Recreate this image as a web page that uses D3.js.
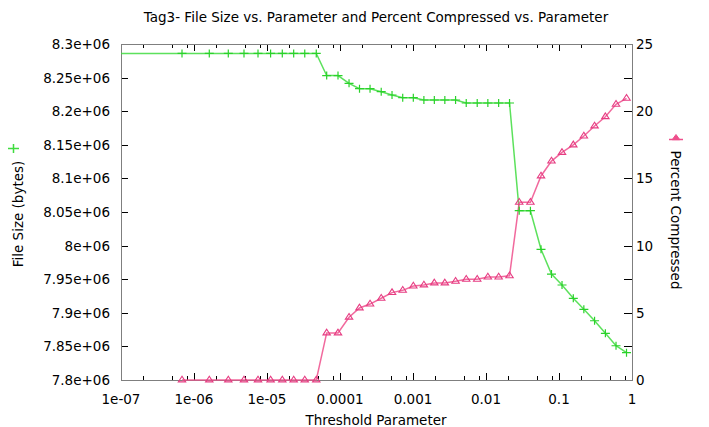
<!DOCTYPE html>
<html>
<head>
<meta charset="utf-8">
<script src="https://cdn.jsdelivr.net/npm/d3@7"></script>
<style>
  body { margin: 0; background: #fff; }
  text { font-family: "DejaVu Sans", sans-serif; fill: #000; font-size: 13.5px; }
</style>
</head>
<body>
<div id="chart"></div>
<script>
// threshold parameter (x), first value lies left of the plotted range
const thresholds = [1e-8, 6.85e-7, 1.62e-6, 2.95e-6, 4.84e-6, 7.53e-6, 1.12e-5, 1.62e-5, 2.32e-5, 3.29e-5, 4.73e-5,
    6.57e-5, 9.39e-5, 1.33e-4, 1.85e-4, 2.58e-4, 3.67e-4, 5.16e-4, 7.23e-4, 1.01e-3, 1.41e-3,
    1.96e-3, 2.73e-3, 3.83e-3, 5.36e-3, 7.58e-3, 1.06e-2, 1.49e-2, 2.10e-2, 2.85e-2, 4.06e-2,
    5.67e-2, 7.89e-2, 0.110, 0.157, 0.219, 0.307, 0.432, 0.604, 0.841];

// file size in bytes
const fileSizes = [8.286e6, 8.286e6, 8.286e6, 8.286e6, 8.286e6, 8.286e6, 8.286e6, 8.286e6, 8.286e6, 8.286e6, 8.286e6,
    8.253e6, 8.253e6, 8.2415e6, 8.2335e6, 8.2335e6, 8.229e6, 8.2241e6, 8.2201e6, 8.2201e6, 8.2167e6,
    8.2167e6, 8.2167e6, 8.2167e6, 8.2122e6, 8.2122e6, 8.2122e6, 8.2122e6, 8.2122e6, 8.0519e6, 8.0519e6,
    7.9945e6, 7.9577e6, 7.9414e6, 7.9216e6, 7.9052e6, 7.8882e6, 7.8695e6, 7.851e6, 7.8406e6];

// percent compressed (no value read for the off-axis point)
const percents = [null, 0, 0, 0, 0, 0, 0, 0, 0, 0, 0,
    3.5, 3.5, 4.67, 5.36, 5.65, 6.08, 6.5, 6.67, 6.99, 7.07,
    7.22, 7.22, 7.34, 7.49, 7.49, 7.66, 7.66, 7.75, 13.22, 13.22,
    15.18, 16.29, 16.93, 17.49, 18.15, 18.9, 19.59, 20.51, 20.96];

const xTicks = [1e-7, 1e-6, 1e-5, 1e-4, 1e-3, 1e-2, 1e-1, 1];
const xTickLabels = ["1e-07", "1e-06", "1e-05", "0.0001", "0.001", "0.01", "0.1", "1"];
const yTicks = [7.8e6, 7.85e6, 7.9e6, 7.95e6, 8e6, 8.05e6, 8.1e6, 8.15e6, 8.2e6, 8.25e6, 8.3e6];
const yTickLabels = ["7.8e+06", "7.85e+06", "7.9e+06", "7.95e+06", "8e+06", "8.05e+06",
    "8.1e+06", "8.15e+06", "8.2e+06", "8.25e+06", "8.3e+06"];
const y2Ticks = [0, 5, 10, 15, 20, 25];

const width = 709;
const height = 427;
const margin = { top: 44, right: 77, bottom: 47, left: 121 };
const green = "#3fdc3f";
const pink = "#ee4f8c";

const svg = d3.select("#chart")
    .append("svg")
    .attr("width", width)
    .attr("height", height);

const x = d3.scaleLog()
    .domain([1e-7, 1])
    .range([margin.left, width - margin.right]);

const y = d3.scaleLinear()
    .domain([7.8e6, 8.3e6])
    .range([height - margin.bottom, margin.top]);

const y2 = d3.scaleLinear()
    .domain([0, 25])
    .range([height - margin.bottom, margin.top]);

const plotLeft = margin.left, plotRight = width - margin.right;
const plotTop = margin.top, plotBottom = height - margin.bottom;

// minor x ticks at 2, 5, 8 of each decade
const xMinor = [];
xTicks.slice(0, -1).forEach(t => [2, 5, 8].forEach(m => xMinor.push(t * m)));

const ticks = svg.append("g").attr("stroke", "#000").attr("stroke-width", 1);

ticks.selectAll(".xmaj").data(xTicks).enter().append("path")
    .attr("d", d => `M${Math.round(x(d)) + 0.5},${plotBottom}v-7M${Math.round(x(d)) + 0.5},${plotTop}v7`);
ticks.selectAll(".xmin").data(xMinor).enter().append("path")
    .attr("d", d => `M${Math.round(x(d)) + 0.5},${plotBottom}v-4M${Math.round(x(d)) + 0.5},${plotTop}v4`);
ticks.selectAll(".ymaj").data(yTicks).enter().append("path")
    .attr("d", d => `M${plotLeft},${Math.round(y(d)) + 0.5}h7M${plotRight},${Math.round(y(d)) + 0.5}h-8`);

// frame
svg.append("rect")
    .attr("x", plotLeft + 0.5)
    .attr("y", plotTop + 0.5)
    .attr("width", plotRight - plotLeft)
    .attr("height", plotBottom - plotTop)
    .attr("fill", "none")
    .attr("stroke", "#7f7f7f");

// tick labels
svg.append("g").selectAll("text").data(xTicks).enter().append("text")
    .attr("x", d => x(d))
    .attr("y", plotBottom + 24)
    .attr("text-anchor", "middle")
    .text((d, i) => xTickLabels[i]);

svg.append("g").selectAll("text").data(yTicks).enter().append("text")
    .attr("x", plotLeft - 11)
    .attr("y", d => y(d) + 5)
    .attr("text-anchor", "end")
    .text((d, i) => yTickLabels[i]);

svg.append("g").selectAll("text").data(y2Ticks).enter().append("text")
    .attr("x", plotRight + 4)
    .attr("y", d => y2(d) + 5)
    .text(d => d);

// titles
svg.append("text")
    .attr("x", 376).attr("y", 22)
    .attr("text-anchor", "middle")
    .text("Tag3- File Size vs. Parameter and Percent Compressed vs. Parameter");

svg.append("text")
    .attr("x", 376).attr("y", 425)
    .attr("text-anchor", "middle")
    .text("Threshold Parameter");

svg.append("text")
    .attr("transform", "translate(23,214) rotate(-90)")
    .attr("text-anchor", "middle")
    .text("File Size (bytes)");

svg.append("text")
    .attr("transform", "translate(671,220) rotate(90)")
    .attr("text-anchor", "middle")
    .text("Percent Compressed");

// legend samples
svg.append("path")
    .attr("d", "M8,148.5h11M13.5,144v9")
    .attr("stroke", green).attr("stroke-width", 1.5).attr("fill", "none");
svg.append("path")
    .attr("d", "M669,139.5h14")
    .attr("stroke", pink).attr("stroke-width", 1.5);
svg.append("path")
    .attr("d", "M676,134.5l-3.8,5.2h7.6z")
    .attr("stroke", pink).attr("fill", pink).attr("stroke-width", 1);

// data lines
svg.append("clipPath").attr("id", "clip")
    .append("rect")
    .attr("x", plotLeft).attr("y", plotTop)
    .attr("width", plotRight - plotLeft).attr("height", plotBottom - plotTop);

const sizeLine = d3.line()
    .x((d, i) => x(thresholds[i]))
    .y(d => y(d));
const pctLine = d3.line()
    .defined(d => d !== null)
    .x((d, i) => x(thresholds[i]))
    .y(d => y2(d));

svg.append("path")
    .datum(fileSizes)
    .attr("clip-path", "url(#clip)")
    .attr("d", sizeLine)
    .attr("fill", "none")
    .attr("stroke", green)
    .attr("stroke-opacity", 0.85)
    .attr("stroke-width", 1.5);

svg.append("path")
    .datum(percents)
    .attr("d", pctLine)
    .attr("fill", "none")
    .attr("stroke", pink)
    .attr("stroke-opacity", 0.85)
    .attr("stroke-width", 1.5);

// markers (skip the point left of the axis)
const shown = d3.range(1, thresholds.length);

svg.append("g").selectAll("path").data(shown).enter().append("path")
    .attr("d", i => {
        const px = x(thresholds[i]), py = y(fileSizes[i]);
        return `M${px - 4.5},${py}h9M${px},${py - 4}v8`;
    })
    .attr("stroke", "#2ad22a")
    .attr("stroke-width", 1.2)
    .attr("fill", "none");

svg.append("g").selectAll("path").data(shown).enter().append("path")
    .attr("d", i => {
        const px = x(thresholds[i]), py = y2(percents[i]);
        return `M${px},${py - 3.8}L${px - 3.7},${py + 1.9}H${px + 3.7}Z`;
    })
    .attr("stroke", "#e63c82")
    .attr("stroke-width", 1.1)
    .attr("fill", "none");
</script>
</body>
</html>
